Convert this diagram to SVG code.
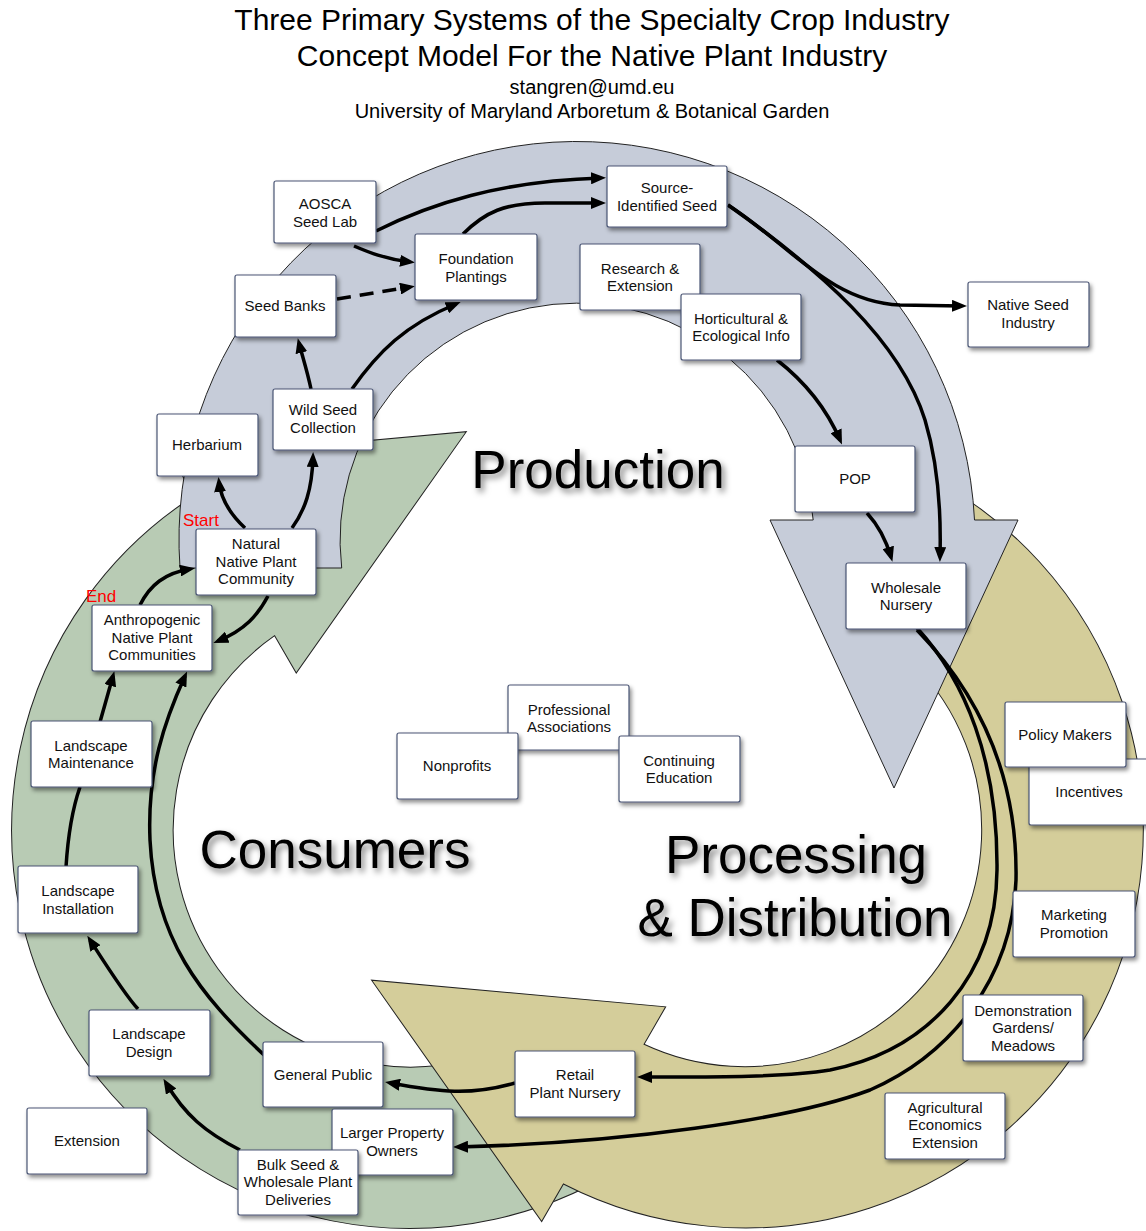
<svg xmlns="http://www.w3.org/2000/svg" xmlns:xlink="http://www.w3.org/1999/xlink" width="1146" height="1231" viewBox="0 0 1146 1231">
<defs>
<style>
.title{font-family:"Liberation Sans",Arial,sans-serif;fill:#000;text-anchor:middle}
.big{font-family:"Liberation Sans",Arial,sans-serif;font-size:53px;fill:#000;text-anchor:middle;filter:url(#tshadow)}
.node rect{fill:#fff;stroke:#4a5574;stroke-width:1.2;filter:url(#bshadow)}
.node text{font-family:"Liberation Sans",Arial,sans-serif;font-size:15px;fill:#111;text-anchor:middle}
.red{font-family:"Liberation Sans",Arial,sans-serif;font-size:17px;fill:#ff0000}
.con path{fill:none;stroke:#000;stroke-width:3.5;marker-end:url(#arr)}
.con path.plain{marker-end:none}
.con path.dash{stroke-dasharray:14 9}
.band{stroke:#222;stroke-width:1}
</style>
<filter id="bshadow" x="-20%" y="-20%" width="150%" height="150%">
<feDropShadow dx="2" dy="3" stdDeviation="2" flood-color="#000" flood-opacity="0.45"/>
</filter>
<filter id="tshadow" x="-10%" y="-20%" width="130%" height="150%">
<feDropShadow dx="3" dy="4" stdDeviation="3" flood-color="#000" flood-opacity="0.5"/>
</filter>
<marker id="arr" markerUnits="userSpaceOnUse" markerWidth="15" markerHeight="12" viewBox="0 0 15 12" refX="10" refY="6" orient="auto">
<path d="M0,0 L15,6 L0,12 Z" fill="#000"/>
</marker>
<path id="arrowShape" d="M180,568 A398,398 0 1 1 974.5,520 L1018,520 L894,788 L770,520 L813.2,520 A237,237 0 1 0 341.7,568 Z"/>
</defs>
<rect width="1146" height="1231" fill="#fff"/>

<g id="title">
<text class="title" x="592" y="30" font-size="30">Three Primary Systems of the Specialty Crop Industry</text>
<text class="title" x="592" y="66" font-size="30">Concept Model For the Native Plant Industry</text>
<text class="title" x="592" y="94" font-size="20">stangren@umd.eu</text>
<text class="title" x="592" y="118" font-size="20">University of Maryland Arboretum &amp; Botanical Garden</text>
</g>

<g id="cycle">
<use xlink:href="#arrowShape" class="band" fill="#b8cbb4" transform="rotate(-120 577.3 733.3)"/>
<use xlink:href="#arrowShape" class="band" fill="#d4cd9a" transform="rotate(120 577.3 733.3)"/>
<use xlink:href="#arrowShape" class="band" fill="#c6ccd9"/>
</g>

<g id="labels">
<text class="big" x="598" y="488">Production</text>
<text class="big" x="335" y="868">Consumers</text>
<text class="big" x="796" y="873">Processing</text>
<text class="big" x="795" y="936">&amp; Distribution</text>
<text class="red" x="183" y="526">Start</text>
<text class="red" x="86" y="602">End</text>
</g>

<g id="connectors" class="con">
<path d="M376,231 C430,204 500,181 601,178"/>
<path d="M463,234 C485,212 505,203 545,203 L601,203"/>
<path d="M354,246 C368,252 385,259 410,262"/>
<path class="dash" d="M337,299 L410,287"/>
<path d="M311,389 C307,370 302,355 299,343"/>
<path d="M352,389 C378,352 405,325 456,304"/>
<path d="M728,205 C790,245 830,302 900,305 L962,306"/>
<path d="M728,205 C820,270 900,340 925,420 C940,470 941,520 940,557"/>
<path d="M777,360 C800,378 825,405 840,440"/>
<path d="M867,513 C878,525 886,540 891,557"/>
<path d="M917,628 C965,680 998,760 997,870 C996,975 930,1050 830,1070 C780,1078 700,1077 642,1077"/>
<path d="M917,630 C975,690 1018,770 1016,880 C1012,980 950,1055 870,1090 C790,1120 620,1143 458,1147"/>
<path d="M515,1083 C470,1096 440,1092 390,1083"/>
<path d="M264,1055 C200,995 155,940 150,840 C147,770 165,720 185,676"/>
<path d="M240,1150 C205,1132 185,1115 166,1083"/>
<path d="M138,1009 C125,995 108,968 90,940"/>
<path class="plain" d="M66,867 C68,835 72,810 80,787"/>
<path d="M100,722 L113,676"/>
<path d="M140,605 C150,585 165,573 190,569"/>
<path d="M268,596 C258,615 245,630 218,641"/>
<path d="M245,528 C230,514 221,500 219,482"/>
<path d="M292,528 C305,510 312,490 313,457"/>
</g>

<g id="n-aosca" class="node"><rect x="274" y="181" width="102" height="62" rx="2"/><text x="325" y="209">AOSCA</text><text x="325" y="227">Seed Lab</text></g>
<g id="n-source" class="node"><rect x="607" y="166" width="120" height="61" rx="2"/><text x="667" y="193">Source-</text><text x="667" y="211">Identified Seed</text></g>
<g id="n-foundation" class="node"><rect x="415" y="234" width="122" height="66" rx="2"/><text x="476" y="264">Foundation</text><text x="476" y="282">Plantings</text></g>
<g id="n-research" class="node"><rect x="580" y="244" width="120" height="66" rx="2"/><text x="640" y="274">Research &amp;</text><text x="640" y="291">Extension</text></g>
<g id="n-horticultural" class="node"><rect x="681" y="294" width="120" height="66" rx="2"/><text x="741" y="324">Horticultural &amp;</text><text x="741" y="341">Ecological Info</text></g>
<g id="n-nativeseed" class="node"><rect x="968" y="282" width="121" height="65" rx="2"/><text x="1028" y="310">Native Seed</text><text x="1028" y="328">Industry</text></g>
<g id="n-seedbanks" class="node"><rect x="235" y="275" width="101" height="62" rx="2"/><text x="285" y="311">Seed Banks</text></g>
<g id="n-wildseed" class="node"><rect x="273" y="389" width="100" height="61" rx="2"/><text x="323" y="415">Wild Seed</text><text x="323" y="433">Collection</text></g>
<g id="n-herbarium" class="node"><rect x="157" y="414" width="101" height="62" rx="2"/><text x="207" y="450">Herbarium</text></g>
<g id="n-pop" class="node"><rect x="795" y="446" width="120" height="66" rx="2"/><text x="855" y="484">POP</text></g>
<g id="n-natural" class="node"><rect x="196" y="529" width="120" height="66" rx="2"/><text x="256" y="549">Natural</text><text x="256" y="567">Native Plant</text><text x="256" y="584">Community</text></g>
<g id="n-wholesale" class="node"><rect x="846" y="563" width="120" height="66" rx="2"/><text x="906" y="593">Wholesale</text><text x="906" y="610">Nursery</text></g>
<g id="n-anthropogenic" class="node"><rect x="92" y="605" width="120" height="66" rx="2"/><text x="152" y="625">Anthropogenic</text><text x="152" y="643">Native Plant</text><text x="152" y="660">Communities</text></g>
<g id="n-professional" class="node"><rect x="508" y="685" width="121" height="65" rx="2"/><text x="569" y="715">Professional</text><text x="569" y="732">Associations</text></g>
<g id="n-nonprofits" class="node"><rect x="397" y="733" width="121" height="66" rx="2"/><text x="457" y="771">Nonprofits</text></g>
<g id="n-continuing" class="node"><rect x="619" y="736" width="121" height="66" rx="2"/><text x="679" y="766">Continuing</text><text x="679" y="783">Education</text></g>
<g id="n-incentives" class="node"><rect x="1029" y="759" width="121" height="66" rx="2"/><text x="1089" y="797">Incentives</text></g>
<g id="n-policy" class="node"><rect x="1005" y="702" width="121" height="65" rx="2"/><text x="1065" y="740">Policy Makers</text></g>
<g id="n-maintenance" class="node"><rect x="31" y="721" width="121" height="66" rx="2"/><text x="91" y="751">Landscape</text><text x="91" y="768">Maintenance</text></g>
<g id="n-installation" class="node"><rect x="18" y="866" width="120" height="67" rx="2"/><text x="78" y="896">Landscape</text><text x="78" y="914">Installation</text></g>
<g id="n-marketing" class="node"><rect x="1013" y="891" width="122" height="66" rx="2"/><text x="1074" y="920">Marketing</text><text x="1074" y="938">Promotion</text></g>
<g id="n-demonstration" class="node"><rect x="963" y="995" width="120" height="66" rx="2"/><text x="1023" y="1016">Demonstration</text><text x="1023" y="1033">Gardens/</text><text x="1023" y="1051">Meadows</text></g>
<g id="n-design" class="node"><rect x="89" y="1010" width="121" height="66" rx="2"/><text x="149" y="1039">Landscape</text><text x="149" y="1057">Design</text></g>
<g id="n-retail" class="node"><rect x="515" y="1051" width="120" height="66" rx="2"/><text x="575" y="1080">Retail</text><text x="575" y="1098">Plant Nursery</text></g>
<g id="n-general" class="node"><rect x="263" y="1042" width="120" height="65" rx="2"/><text x="323" y="1080">General Public</text></g>
<g id="n-agri" class="node"><rect x="885" y="1093" width="120" height="66" rx="2"/><text x="945" y="1113">Agricultural</text><text x="945" y="1130">Economics</text><text x="945" y="1148">Extension</text></g>
<g id="n-larger" class="node"><rect x="332" y="1109" width="121" height="66" rx="2"/><text x="392" y="1138">Larger Property</text><text x="392" y="1156">Owners</text></g>
<g id="n-extension" class="node"><rect x="27" y="1108" width="120" height="66" rx="2"/><text x="87" y="1146">Extension</text></g>
<g id="n-bulk" class="node"><rect x="238" y="1150" width="120" height="65" rx="2"/><text x="298" y="1170">Bulk Seed &amp;</text><text x="298" y="1187">Wholesale Plant</text><text x="298" y="1205">Deliveries</text></g>
</svg>
